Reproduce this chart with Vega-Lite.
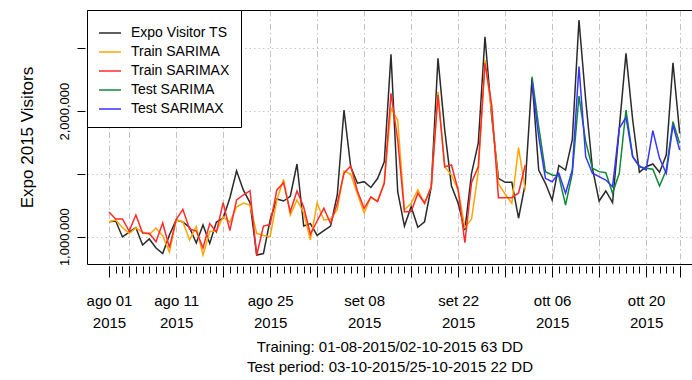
{
"$schema": "https://vega.github.io/schema/vega-lite/v6.json",
"width": 605, "height": 254,
"autosize": {"type": "none"},
"padding": {"left": 87, "top": 10, "right": 0, "bottom": 116},
"background": "white",
"config": {"view": {"stroke": null}, "font": "Liberation Sans"},
"datasets": {
"ts": [
{"d":"2015-08-01","v":1119000},{"d":"2015-08-02","v":1125000},{"d":"2015-08-03","v":998000},{"d":"2015-08-04","v":1037000},{"d":"2015-08-05","v":1073000},{"d":"2015-08-06","v":934000},{"d":"2015-08-07","v":982000},{"d":"2015-08-08","v":910000},{"d":"2015-08-09","v":866000},{"d":"2015-08-10","v":1014000},{"d":"2015-08-11","v":1133000},{"d":"2015-08-12","v":1117000},{"d":"2015-08-13","v":1073000},{"d":"2015-08-14","v":950000},{"d":"2015-08-15","v":1093000},{"d":"2015-08-16","v":946000},{"d":"2015-08-17","v":1117000},{"d":"2015-08-18","v":1147000},{"d":"2015-08-19","v":1308000},{"d":"2015-08-20","v":1525000},{"d":"2015-08-21","v":1372000},{"d":"2015-08-22","v":1272000},{"d":"2015-08-23","v":854000},{"d":"2015-08-24","v":866000},{"d":"2015-08-25","v":1133000},{"d":"2015-08-26","v":1300000},{"d":"2015-08-27","v":1284000},{"d":"2015-08-28","v":1322000},{"d":"2015-08-29","v":1579000},{"d":"2015-08-30","v":1085000},{"d":"2015-08-31","v":1104000},
{"d":"2015-09-01","v":1010000},{"d":"2015-09-02","v":1048000},{"d":"2015-09-03","v":1085000},{"d":"2015-09-04","v":1332000},{"d":"2015-09-05","v":2009000},{"d":"2015-09-06","v":1557000},{"d":"2015-09-07","v":1426000},{"d":"2015-09-08","v":1438000},{"d":"2015-09-09","v":1392000},{"d":"2015-09-10","v":1463000},{"d":"2015-09-11","v":1597000},{"d":"2015-09-12","v":2452000},{"d":"2015-09-13","v":1358000},{"d":"2015-09-14","v":1085000},{"d":"2015-09-15","v":1239000},{"d":"2015-09-16","v":1075000},{"d":"2015-09-17","v":1119000},{"d":"2015-09-18","v":1398000},{"d":"2015-09-19","v":2420000},{"d":"2015-09-20","v":1850000},{"d":"2015-09-21","v":1406000},{"d":"2015-09-22","v":1266000},{"d":"2015-09-23","v":1053000},{"d":"2015-09-24","v":1505000},{"d":"2015-09-25","v":1744000},{"d":"2015-09-26","v":2592000},{"d":"2015-09-27","v":1955000},{"d":"2015-09-28","v":1465000},{"d":"2015-09-29","v":1433000},{"d":"2015-09-30","v":1433000},
{"d":"2015-10-01","v":1147000},{"d":"2015-10-02","v":1425000},{"d":"2015-10-03","v":2261000},{"d":"2015-10-04","v":1531000},{"d":"2015-10-05","v":1425000},{"d":"2015-10-06","v":1292000},{"d":"2015-10-07","v":1567000},{"d":"2015-10-08","v":1531000},{"d":"2015-10-09","v":1770000},{"d":"2015-10-10","v":2725000},{"d":"2015-10-11","v":2088000},{"d":"2015-10-12","v":1545000},{"d":"2015-10-13","v":1284000},{"d":"2015-10-14","v":1364000},{"d":"2015-10-15","v":1271000},{"d":"2015-10-16","v":1863000},{"d":"2015-10-17","v":2460000},{"d":"2015-10-18","v":1929000},{"d":"2015-10-19","v":1513000},{"d":"2015-10-20","v":1557000},{"d":"2015-10-21","v":1579000},{"d":"2015-10-22","v":1513000},{"d":"2015-10-23","v":1650000},{"d":"2015-10-24","v":2385000},{"d":"2015-10-25","v":1823000}
],
"trainSarima": [
{"d":"2015-08-01","v":1119000},{"d":"2015-08-02","v":1133000},{"d":"2015-08-03","v":1073000},{"d":"2015-08-04","v":1025000},{"d":"2015-08-05","v":1069000},{"d":"2015-08-06","v":1037000},{"d":"2015-08-07","v":1018000},{"d":"2015-08-08","v":1069000},{"d":"2015-08-09","v":1006000},{"d":"2015-08-10","v":878000},{"d":"2015-08-11","v":1133000},{"d":"2015-08-12","v":1119000},{"d":"2015-08-13","v":974000},{"d":"2015-08-14","v":1080000},{"d":"2015-08-15","v":854000},{"d":"2015-08-16","v":1041000},{"d":"2015-08-17","v":1045000},{"d":"2015-08-18","v":1157000},{"d":"2015-08-19","v":1117000},{"d":"2015-08-20","v":1236000},{"d":"2015-08-21","v":1268000},{"d":"2015-08-22","v":1252000},{"d":"2015-08-23","v":1027000},{"d":"2015-08-24","v":1010000},{"d":"2015-08-25","v":1000000},{"d":"2015-08-26","v":1292000},{"d":"2015-08-27","v":1457000},{"d":"2015-08-28","v":1173000},{"d":"2015-08-29","v":1292000},{"d":"2015-08-30","v":1189000},{"d":"2015-08-31","v":974000},
{"d":"2015-09-01","v":1268000},{"d":"2015-09-02","v":1133000},{"d":"2015-09-03","v":1141000},{"d":"2015-09-04","v":1217000},{"d":"2015-09-05","v":1523000},{"d":"2015-09-06","v":1499000},{"d":"2015-09-07","v":1340000},{"d":"2015-09-08","v":1189000},{"d":"2015-09-09","v":1316000},{"d":"2015-09-10","v":1284000},{"d":"2015-09-11","v":1430000},{"d":"2015-09-12","v":2022000},{"d":"2015-09-13","v":1929000},{"d":"2015-09-14","v":1213000},{"d":"2015-09-15","v":1266000},{"d":"2015-09-16","v":1372000},{"d":"2015-09-17","v":1266000},{"d":"2015-09-18","v":1398000},{"d":"2015-09-19","v":2154000},{"d":"2015-09-20","v":1557000},{"d":"2015-09-21","v":1491000},{"d":"2015-09-22","v":1372000},{"d":"2015-09-23","v":1073000},{"d":"2015-09-24","v":1141000},{"d":"2015-09-25","v":1515000},{"d":"2015-09-26","v":2407000},{"d":"2015-09-27","v":1993000},{"d":"2015-09-28","v":1420000},{"d":"2015-09-29","v":1340000},{"d":"2015-09-30","v":1266000},
{"d":"2015-10-01","v":1710000},{"d":"2015-10-02","v":1372000}
],
"trainSarimax": [
{"d":"2015-08-01","v":1197000},{"d":"2015-08-02","v":1141000},{"d":"2015-08-03","v":1141000},{"d":"2015-08-04","v":1045000},{"d":"2015-08-05","v":1173000},{"d":"2015-08-06","v":1029000},{"d":"2015-08-07","v":1027000},{"d":"2015-08-08","v":960000},{"d":"2015-08-09","v":1109000},{"d":"2015-08-10","v":914000},{"d":"2015-08-11","v":1137000},{"d":"2015-08-12","v":1218000},{"d":"2015-08-13","v":1061000},{"d":"2015-08-14","v":1045000},{"d":"2015-08-15","v":910000},{"d":"2015-08-16","v":1105000},{"d":"2015-08-17","v":1037000},{"d":"2015-08-18","v":1271000},{"d":"2015-08-19","v":1049000},{"d":"2015-08-20","v":1292000},{"d":"2015-08-21","v":1332000},{"d":"2015-08-22","v":1366000},{"d":"2015-08-23","v":850000},{"d":"2015-08-24","v":1085000},{"d":"2015-08-25","v":1097000},{"d":"2015-08-26","v":1372000},{"d":"2015-08-27","v":1430000},{"d":"2015-08-28","v":1199000},{"d":"2015-08-29","v":1364000},{"d":"2015-08-30","v":1236000},{"d":"2015-08-31","v":1021000},
{"d":"2015-09-01","v":1125000},{"d":"2015-09-02","v":1226000},{"d":"2015-09-03","v":1105000},{"d":"2015-09-04","v":1266000},{"d":"2015-09-05","v":1505000},{"d":"2015-09-06","v":1563000},{"d":"2015-09-07","v":1364000},{"d":"2015-09-08","v":1226000},{"d":"2015-09-09","v":1316000},{"d":"2015-09-10","v":1280000},{"d":"2015-09-11","v":1425000},{"d":"2015-09-12","v":2142000},{"d":"2015-09-13","v":1770000},{"d":"2015-09-14","v":1199000},{"d":"2015-09-15","v":1199000},{"d":"2015-09-16","v":1346000},{"d":"2015-09-17","v":1266000},{"d":"2015-09-18","v":1398000},{"d":"2015-09-19","v":2128000},{"d":"2015-09-20","v":1557000},{"d":"2015-09-21","v":1571000},{"d":"2015-09-22","v":1372000},{"d":"2015-09-23","v":952000},{"d":"2015-09-24","v":1432000},{"d":"2015-09-25","v":1557000},{"d":"2015-09-26","v":2381000},{"d":"2015-09-27","v":2049000},{"d":"2015-09-28","v":1311000},{"d":"2015-09-29","v":1311000},{"d":"2015-09-30","v":1311000},
{"d":"2015-10-01","v":1348000},{"d":"2015-10-02","v":1571000}
],
"testSarima": [
{"d":"2015-10-03","v":2274000},{"d":"2015-10-04","v":1876000},{"d":"2015-10-05","v":1518000},{"d":"2015-10-06","v":1491000},{"d":"2015-10-07","v":1483000},{"d":"2015-10-08","v":1252000},{"d":"2015-10-09","v":1505000},{"d":"2015-10-10","v":2120000},{"d":"2015-10-11","v":1756000},{"d":"2015-10-12","v":1545000},{"d":"2015-10-13","v":1518000},{"d":"2015-10-14","v":1510000},{"d":"2015-10-15","v":1346000},{"d":"2015-10-16","v":1505000},{"d":"2015-10-17","v":2009000},{"d":"2015-10-18","v":1637000},{"d":"2015-10-19","v":1557000},{"d":"2015-10-20","v":1545000},{"d":"2015-10-21","v":1537000},{"d":"2015-10-22","v":1404000},{"d":"2015-10-23","v":1531000},{"d":"2015-10-24","v":1916000},{"d":"2015-10-25","v":1744000}
],
"testSarimax": [
{"d":"2015-10-03","v":2234000},{"d":"2015-10-04","v":1796000},{"d":"2015-10-05","v":1465000},{"d":"2015-10-06","v":1438000},{"d":"2015-10-07","v":1505000},{"d":"2015-10-08","v":1346000},{"d":"2015-10-09","v":1531000},{"d":"2015-10-10","v":2354000},{"d":"2015-10-11","v":1637000},{"d":"2015-10-12","v":1505000},{"d":"2015-10-13","v":1478000},{"d":"2015-10-14","v":1451000},{"d":"2015-10-15","v":1398000},{"d":"2015-10-16","v":1863000},{"d":"2015-10-17","v":1951000},{"d":"2015-10-18","v":1637000},{"d":"2015-10-19","v":1563000},{"d":"2015-10-20","v":1531000},{"d":"2015-10-21","v":1844000},{"d":"2015-10-22","v":1624000},{"d":"2015-10-23","v":1505000},{"d":"2015-10-24","v":1889000},{"d":"2015-10-25","v":1690000}
]
},
"layer": [
{
"data": {"name": "ts"},
"mark": {"type": "line", "strokeWidth": 1.5},
"encoding": {
"x": {"field": "d", "type": "temporal",
"scale": {"type": "utc", "domain": [1438104067200, 1445889571200], "nice": false},
"axis": {"orient": "bottom", "offset": 2, "domain": false,
"values": [1438387200000,1438646400000,1439251200000,1439856000000,1440460800000,1441065600000,1441670400000,1442275200000,1442880000000,1443484800000,1444089600000,1444694400000,1445299200000,1445731200000],
"tickSize": 11, "tickColor": "black", "tickWidth": 1,
"labelExpr": "indexof([0,10,24,38,52,66,80], round((datum.value - 1438387200000) / 86400000)) >= 0 ? [(utcmonth(datum.value) == 7 ? 'ago' : utcmonth(datum.value) == 8 ? 'set' : 'ott') + ' ' + utcFormat(datum.value, '%d'), '2015'] : ''",
"labelFontSize": 15, "labelLineHeight": 22, "labelPadding": 16, "labelColor": "black", "labelOverlap": false, "labelFlush": false, "labelAngle": 0, "labelBaseline": "top", "labelAlign": "center", "labelBound": false,
"grid": true, "gridColor": "#c2c2c2", "gridDash": [6, 3, 1.5, 3], "gridWidth": 1,
"title": ["Training: 01-08-2015/02-10-2015 63 DD", "Test period:  03-10-2015/25-10-2015 22 DD"],
"titleFontSize": 15, "titleFontWeight": "normal", "titleLineHeight": 20, "titlePadding": 9, "titleColor": "black"}},
"y": {"field": "v", "type": "quantitative",
"scale": {"domain": [782600, 2805000], "nice": false, "zero": false},
"axis": {"orient": "left", "offset": 2, "domain": false,
"values": [1000000, 1500000, 2000000, 2500000],
"tickSize": 8, "tickColor": "black", "tickWidth": 1,
"labelExpr": "datum.value == 1000000 || datum.value == 2000000 ? format(datum.value, ',') : ''",
"labelAngle": -90, "labelAlign": "center", "labelBaseline": "bottom", "labelFontSize": 13, "labelPadding": 6, "labelColor": "black", "labelOverlap": false, "labelFlush": false,
"grid": true, "gridColor": "#c8c8c8", "gridDash": [1.5, 3], "gridWidth": 1,
"title": "Expo 2015 Visitors", "titleFontSize": 17, "titleFontWeight": "normal", "titleColor": "black", "titlePadding": 22}},
"color": {"datum": "Expo Visitor TS", "type": "nominal",
"scale": {"domain": ["Expo Visitor TS", "Train SARIMA", "Train SARIMAX", "Test SARIMA", "Test SARIMAX"], "range": ["#2a2a2a", "#ffa500", "#ff2a2a", "#0e8a34", "#3535ff"]},
"legend": {"title": null, "orient": "none", "legendX": 0, "legendY": 0, "direction": "vertical", "strokeColor": "black", "fillColor": "white", "padding": 11, "cornerRadius": 0, "symbolType": "stroke", "symbolSize": 484, "symbolStrokeWidth": 1.5, "labelFontSize": 14, "labelColor": "black", "labelOffset": 9, "rowPadding": -0.3}}
}
},
{
"data": {"name": "trainSarima"},
"mark": {"type": "line", "strokeWidth": 1.5},
"encoding": {
"x": {"field": "d", "type": "temporal",
"axis": {"orient": "bottom", "offset": 2, "domain": false, "grid": false, "labels": false, "title": null,
"tickSize": 7, "tickColor": "black", "tickWidth": 1,
"values": [1438387200000,1438473600000,1438560000000,1438646400000,1438732800000,1438819200000,1438905600000,1438992000000,1439078400000,1439164800000,1439251200000,1439337600000,1439424000000,1439510400000,1439596800000,1439683200000,1439769600000,1439856000000,1439942400000,1440028800000,1440115200000,1440201600000,1440288000000,1440374400000,1440460800000,1440547200000,1440633600000,1440720000000,1440806400000,1440892800000,1440979200000,1441065600000,1441152000000,1441238400000,1441324800000,1441411200000,1441497600000,1441584000000,1441670400000,1441756800000,1441843200000,1441929600000,1442016000000,1442102400000,1442188800000,1442275200000,1442361600000,1442448000000,1442534400000,1442620800000,1442707200000,1442793600000,1442880000000,1442966400000,1443052800000,1443139200000,1443225600000,1443312000000,1443398400000,1443484800000,1443571200000,1443657600000,1443744000000,1443830400000,1443916800000,1444003200000,1444089600000,1444176000000,1444262400000,1444348800000,1444435200000,1444521600000,1444608000000,1444694400000,1444780800000,1444867200000,1444953600000,1445040000000,1445126400000,1445212800000,1445299200000,1445385600000,1445472000000,1445558400000,1445644800000,1445731200000]}},
"y": {"field": "v", "type": "quantitative",
"axis": {"orient": "left", "offset": 0, "domain": true, "domainColor": "black", "domainWidth": 1, "ticks": false, "labels": false, "grid": false, "title": null}},
"color": {"datum": "Train SARIMA", "type": "nominal"}
}
},
{
"data": {"name": "trainSarimax"},
"mark": {"type": "line", "strokeWidth": 1.5},
"encoding": {
"x": {"field": "d", "type": "temporal",
"axis": {"orient": "bottom", "offset": 0, "domain": true, "domainColor": "black", "domainWidth": 1, "ticks": false, "labels": false, "grid": false, "title": null}},
"y": {"field": "v", "type": "quantitative", "axis": null},
"color": {"datum": "Train SARIMAX", "type": "nominal"}
}
},
{
"data": {"name": "testSarima"},
"mark": {"type": "line", "strokeWidth": 1.5},
"encoding": {
"x": {"field": "d", "type": "temporal",
"axis": {"orient": "top", "offset": 0, "domain": true, "domainColor": "black", "domainWidth": 1, "ticks": false, "labels": false, "grid": false, "title": null}},
"y": {"field": "v", "type": "quantitative", "axis": null},
"color": {"datum": "Test SARIMA", "type": "nominal"}
}
},
{
"data": {"name": "testSarimax"},
"mark": {"type": "line", "strokeWidth": 1.5},
"encoding": {
"x": {"field": "d", "type": "temporal", "axis": null},
"y": {"field": "v", "type": "quantitative", "axis": null},
"color": {"datum": "Test SARIMAX", "type": "nominal"}
}
}
],
"resolve": {"axis": {"x": "independent", "y": "independent"}}
}
